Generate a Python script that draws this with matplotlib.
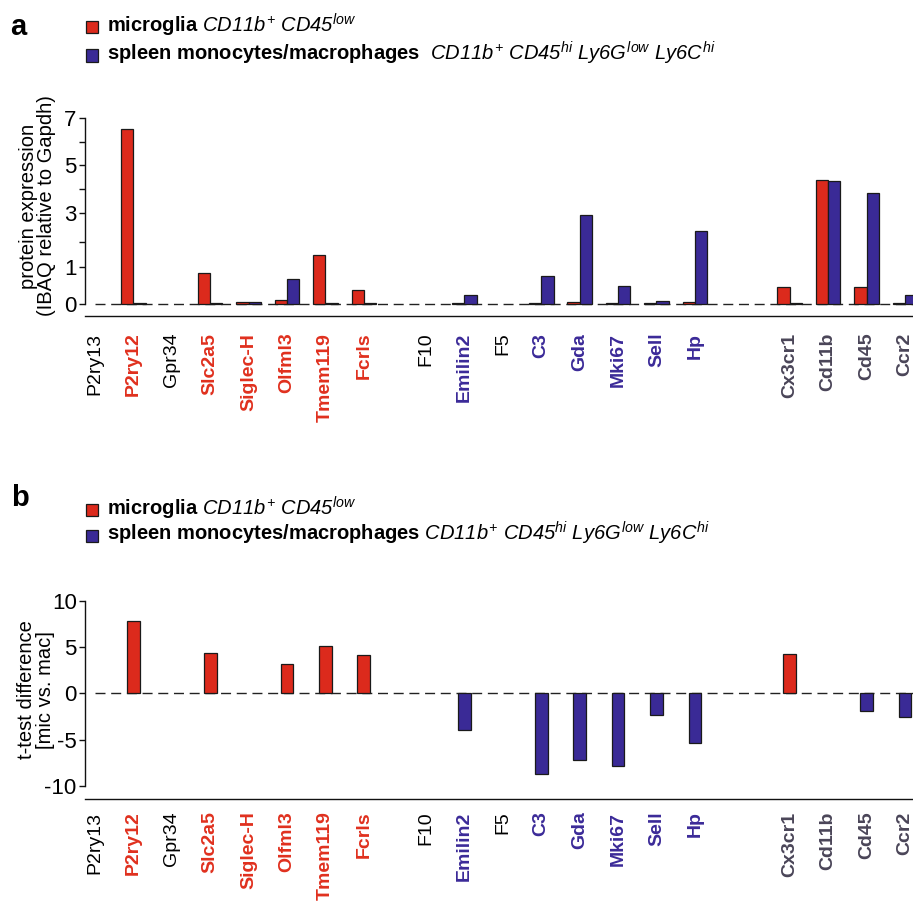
import numpy as np
import matplotlib
matplotlib.use("Agg")
import matplotlib.pyplot as plt
from matplotlib.patches import Rectangle
from matplotlib.ticker import FixedLocator, FixedFormatter

plt.rcParams['font.family'] = ['Liberation Sans', 'DejaVu Sans']
plt.rcParams['mathtext.fontset'] = 'custom'
plt.rcParams['mathtext.rm'] = 'Liberation Sans:italic'
plt.rcParams['mathtext.it'] = 'Liberation Sans:italic'
plt.rcParams['mathtext.bf'] = 'Liberation Sans:bold'
plt.rcParams['axes.unicode_minus'] = False

# ---------------- data ----------------
group1 = ["P2ry13", "P2ry12", "Gpr34", "Slc2a5", "Siglec-H", "Olfml3", "Tmem119", "Fcrls"]
group2 = ["F10", "Emilin2", "F5", "C3", "Gda", "Mki67", "Sell", "Hp"]
group3 = ["Cx3cr1", "Cd11b", "Cd45", "Ccr2"]
genes = group1 + group2 + group3
label_class = ["none", "mic", "none", "mic", "mic", "mic", "mic", "mic",
               "none", "mac", "none", "mac", "mac", "mac", "mac", "mac",
               "ctrl", "ctrl", "ctrl", "ctrl"]

# panel a: protein expression (IBAQ relative to Gapdh)
microglia_expr = [0.0, 6.53, 0.0, 0.85, 0.05, 0.11, 1.47, 0.37,
                  0.0, 0.02, 0.0, 0.02, 0.05, 0.02, 0.02, 0.05,
                  0.46, 4.38, 0.46, 0.02]
monocyte_expr = [0.0, 0.02, 0.0, 0.02, 0.06, 0.68, 0.02, 0.02,
                 0.0, 0.25, 0.0, 0.77, 2.95, 0.49, 0.09, 2.37,
                 0.04, 4.33, 3.83, 0.24]
# panel b: t-test difference (mic vs. mac)
ttest_diff = [0.0, 7.85, 0.0, 4.32, 0.0, 3.14, 5.11, 4.14,
              0.0, -3.97, 0.0, -8.76, -7.21, -7.86, -2.38, -5.41,
              4.28, 0.0, -1.91, -2.53]

yticks_a = [0, 1, 3, 5, 7]
yminor_a = [2, 4, 6]
yticks_b = [-10, -5, 0, 5, 10]

# ---------------- style ----------------
RED = "#DC2A1C"
BLUE = "#3A2A96"
GRAY = "#4A4558"
EDGE = "#1a1a1a"
label_colors = {"none": "black", "mic": "#E0301E", "mac": "#3B2A98", "ctrl": GRAY}
label_weights = {"none": "normal", "mic": "bold", "mac": "bold", "ctrl": "bold"}
GROUP_GAPS = [0.62, 1.47]

# piecewise-linear axis scale of panel a (value -> relative position)
SCALE_KNOTS = np.array([0, 1, 2, 3, 4, 5, 6, 7], float)
SCALE_POS = np.array([0, 37, 62.3, 90.7, 114.7, 139, 162.3, 185.7], float)


def fwd(y):
    y = np.asarray(y, float)
    out = np.interp(y, SCALE_KNOTS, SCALE_POS)
    out = np.where(y < 0, y * SCALE_POS[1], out)
    out = np.where(y > 7, SCALE_POS[-1] + (y - 7) * (SCALE_POS[-1] - SCALE_POS[-2]), out)
    return out


def inv(p):
    p = np.asarray(p, float)
    out = np.interp(p, SCALE_POS, SCALE_KNOTS)
    out = np.where(p < 0, p / SCALE_POS[1], out)
    out = np.where(p > SCALE_POS[-1], 7 + (p - SCALE_POS[-1]) / (SCALE_POS[-1] - SCALE_POS[-2]), out)
    return out


# category positions
positions = []
cur = 0.0
for gi, grp in enumerate([group1, group2, group3]):
    if gi > 0:
        cur += GROUP_GAPS[gi - 1]
    for _ in grp:
        positions.append(cur)
        cur += 1
positions = np.array(positions)

W, H = 913, 901
fig = plt.figure(figsize=(W / 100, H / 100), dpi=100)


def fx(px):
    return px / W


def fy(py):
    return 1 - py / H


XLIM = (-0.26, 21.30)


def style_axes(ax, xpad):
    ax.spines['top'].set_visible(False)
    ax.spines['right'].set_visible(False)
    for s in ['left', 'bottom']:
        ax.spines[s].set_linewidth(1.0)
        ax.spines[s].set_color('#111111')
    ax.set_xlim(*XLIM)
    ax.set_xticks(positions)
    ax.set_xticklabels(genes, rotation=90, va='top', ha='center')
    for lab, cls in zip(ax.get_xticklabels(), label_class):
        lab.set_color(label_colors[cls])
        lab.set_fontweight(label_weights[cls])
    ax.tick_params(axis='x', length=0, pad=xpad, labelsize=14)
    ax.tick_params(axis='y', which='both', length=4, width=1.0, pad=2,
                   labelsize=16, direction='out', color='#111111')
    ax.hlines(0, positions[0], XLIM[1], colors='#222222', linewidth=1.0,
              linestyles=(0, (7.2, 4.1)), zorder=1)


# ---------------- panel a ----------------
axa = fig.add_axes([fx(85), fy(316), fx(913 - 85), (316 - 118.3) / H])
axa.set_yscale('function', functions=(fwd, inv))
axa.set_ylim(inv(-12), 7)
mic = np.array(microglia_expr)
mon = np.array(monocyte_expr)
bw = 0.32
m1 = mic > 0
m2 = mon > 0
axa.bar(positions[m1] - bw / 2, mic[m1], width=bw, color=RED, edgecolor=EDGE,
        linewidth=0.9, zorder=2)
axa.bar(positions[m2] + bw / 2, mon[m2], width=bw, color=BLUE, edgecolor=EDGE,
        linewidth=0.9, zorder=2)
axa.yaxis.set_major_locator(FixedLocator(yticks_a))
axa.yaxis.set_major_formatter(FixedFormatter([str(t) for t in yticks_a]))
axa.yaxis.set_minor_locator(FixedLocator(yminor_a))
axa.yaxis.set_minor_formatter(FixedFormatter([]))
axa.spines['left'].set_bounds(0, 7)
style_axes(axa, 12)

# ---------------- panel b ----------------
axb = fig.add_axes([fx(85), fy(799), fx(913 - 85), (799 - 600.7) / H])
axb.set_ylim(-11.43, 10)
td = np.array(ttest_diff)
bw2 = 0.33
mpos = td > 0
mneg = td < 0
axb.bar(positions[mpos], td[mpos], width=bw2, color=RED, edgecolor=EDGE,
        linewidth=0.9, zorder=2)
axb.bar(positions[mneg], td[mneg], width=bw2, color=BLUE, edgecolor=EDGE,
        linewidth=0.9, zorder=2)
axb.yaxis.set_major_locator(FixedLocator(yticks_b))
axb.yaxis.set_major_formatter(FixedFormatter([str(t) for t in yticks_b]))
axb.spines['left'].set_bounds(-10, 10)
style_axes(axb, 9)

# ---------------- y labels ----------------
fig.text(fx(37.5), fy(206), "protein expression\n(IBAQ relative to Gapdh)",
         rotation=90, ha='center', va='center', multialignment='center',
         fontsize=14.5, linespacing=0.98)
fig.text(fx(36), fy(690), "t-test difference\n[mic vs. mac]",
         rotation=90, ha='center', va='center', multialignment='center',
         fontsize=14.5, linespacing=1.05)

# ---------------- legends ----------------
mic_label = r"microglia $CD11b^{+}$ $CD45^{low}$"
mac_tail = r"$CD11b^{+}$ $CD45^{hi}$ $Ly6G^{low}$ $Ly6C^{hi}$"


def legend_row(ytop, size, color, text):
    fig.add_artist(Rectangle((fx(86), fy(ytop + size)), size / W, size / H,
                             transform=fig.transFigure, facecolor=color,
                             edgecolor=EDGE, linewidth=0.9))
    fig.text(fx(107), fy(ytop + size - 1), text, fontsize=14.5,
             fontweight='bold', va='baseline', ha='left')


legend_row(20.7, 12.4, RED, mic_label)
legend_row(49.3, 12.4, BLUE, "spleen monocytes/macrophages  " + mac_tail)
legend_row(504, 12.0, RED, mic_label)
legend_row(529.5, 12.0, BLUE, "spleen monocytes/macrophages " + mac_tail)

fig.text(fx(10), fy(35), "a", fontsize=21, fontweight='bold', va='baseline')
fig.text(fx(11), fy(506), "b", fontsize=21, fontweight='bold', va='baseline')

fig.savefig("out.png", dpi=100)
